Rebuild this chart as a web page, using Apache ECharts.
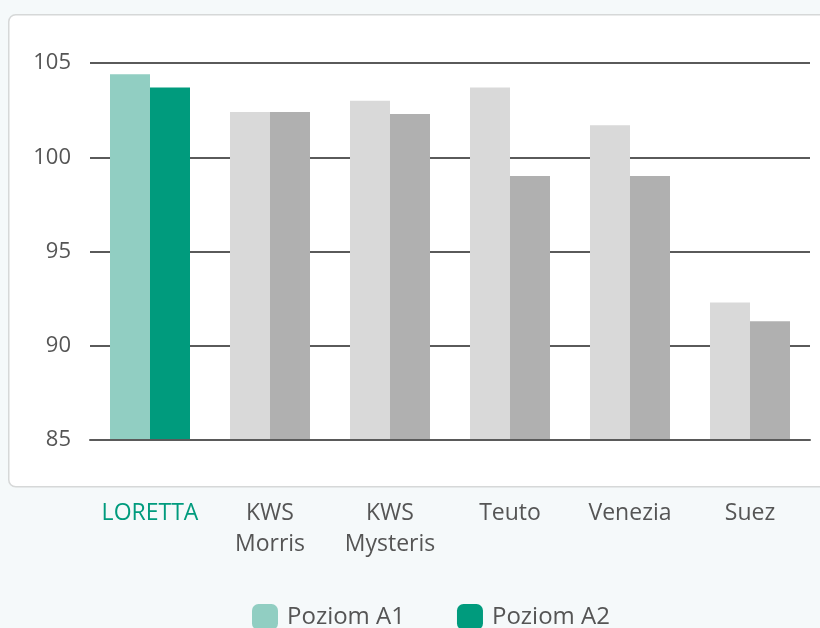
<!DOCTYPE html>
<html>
<head>
<meta charset="utf-8">
<script src="https://cdn.jsdelivr.net/npm/echarts@6/dist/echarts.min.js"></script>
<style>
  html, body { margin: 0; padding: 0; background: #f5f9fa; }
  #main { width: 820px; height: 628px; }
</style>
</head>
<body>
<div id="main"></div>
<script>
const categories = ["LORETTA", "KWS\nMorris", "KWS\nMysteris", "Teuto", "Venezia", "Suez"];
const seriesNames = ["Poziom A1", "Poziom A2"];
const valuesA1 = [104.4, 102.4, 103.0, 103.7, 101.7, 92.3];
const valuesA2 = [103.7, 102.4, 102.3, 99.0, 99.0, 91.3];
const highlightIndex = 0;

const greenA1 = "#91cec2", greenA2 = "#009b7d";
const grayA1 = "#d9d9d9", grayA2 = "#b0b0b0";

const myChart = echarts.init(document.getElementById("main"));

// kolory słupków: wyróżniona odmiana na zielono, reszta szara
const toItems = (vals, hi, lo) => vals.map((v, i) => ({
  value: v,
  itemStyle: { color: i === highlightIndex ? hi : lo }
}));

const option = {
  backgroundColor: "#f5f9fa",
  textStyle: { fontFamily: "Open Sans" },
  graphic: [{
    type: "rect",
    left: 8, top: 14,
    shape: { width: 830, height: 472, r: 7 },
    style: { fill: "#ffffff", stroke: "#d6d8d8", lineWidth: 1.5 },
    z: -10
  }],
  legend: {
    data: seriesNames,
    bottom: -7,
    left: 247,
    icon: "roundRect",
    itemWidth: 26,
    itemHeight: 26,
    itemGap: 52,
    textStyle: { fontSize: 24, color: "#555", fontFamily: "Open Sans", padding: [0, 0, 0, 4] }
  },
  grid: { left: 90, right: 10, top: 63, bottom: 188 },
  xAxis: {
    type: "category",
    data: categories,
    z: 5,
    axisLine: { lineStyle: { color: "#5a5a5a", width: 2 } },
    axisTick: { show: false },
    axisLabel: {
      interval: 0,
      margin: 58,
      fontSize: 23,
      lineHeight: 31,
      color: (val, idx) => idx === highlightIndex ? greenA2 : "#555",
      fontFamily: "Open Sans"
    }
  },
  yAxis: {
    type: "value",
    min: 85, max: 105, interval: 5,
    axisLine: { show: false },
    axisTick: { show: false },
    axisLabel: { fontSize: 22, color: "#555", margin: 19, fontFamily: "Open Sans" },
    splitLine: { lineStyle: { color: "#5a5a5a", width: 2 } }
  },
  series: [
    {
      name: seriesNames[0], type: "bar", barWidth: 40, barGap: "0%",
      itemStyle: { color: greenA1 },
      data: toItems(valuesA1, greenA1, grayA1)
    },
    {
      name: seriesNames[1], type: "bar", barWidth: 40,
      itemStyle: { color: greenA2 },
      data: toItems(valuesA2, greenA2, grayA2)
    }
  ]
};
myChart.setOption(option);
</script>
</body>
</html>
